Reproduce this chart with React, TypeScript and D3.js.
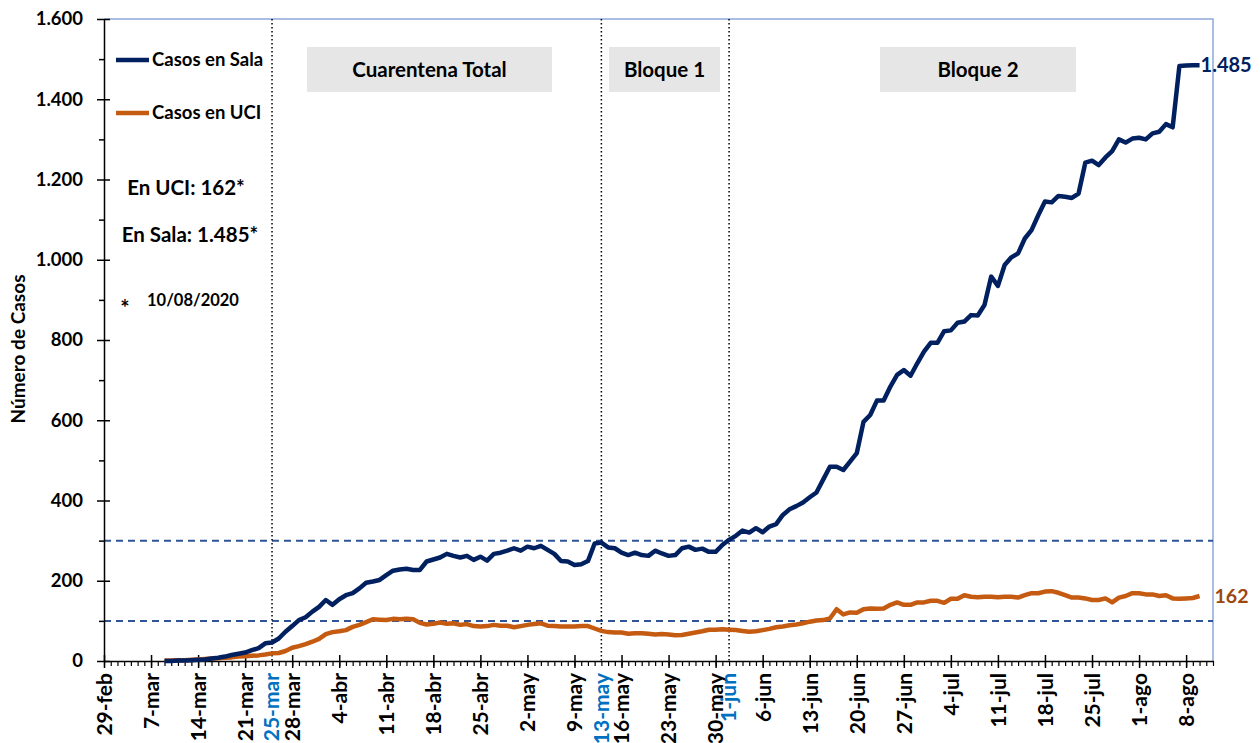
import React, { useEffect, useRef } from 'react';
import * as d3 from 'd3';

// axis runs from 29-feb to 12-ago, series start 9-mar (one value per day)
const axisStart = '2020-02-29';
const axisEnd = '2020-08-12';
const seriesStart = '2020-03-09';

const casosSala = [
  0, 0, 1, 1, 2, 3, 4, 6, 8, 11,
  15, 18, 21, 27, 32, 44, 46, 56, 73, 87,
  102, 109, 123, 135, 152, 140, 154, 164, 169, 181,
  195, 198, 202, 214, 225, 228, 230, 227, 227, 248,
  253, 258, 267, 262, 258, 262, 252, 260, 250, 267,
  270, 275, 281, 275, 285, 281, 287, 277, 267, 249,
  248, 239, 241, 249, 293, 295, 283, 281, 270, 264,
  270, 264, 262, 275, 268, 262, 264, 281, 285, 277,
  280, 272, 272, 289, 302, 312, 325, 320, 331, 321,
  335, 341, 364, 378, 386, 395, 408, 420, 452, 484,
  484, 476, 497, 518, 596, 613, 649, 649, 684, 713,
  725, 711, 742, 771, 793, 793, 822, 824, 843, 846,
  862, 861, 887, 958, 935, 987, 1006, 1016, 1053, 1074,
  1111, 1145, 1143, 1159, 1157, 1154, 1165, 1242, 1247, 1236,
  1255, 1271, 1300, 1292, 1302, 1304, 1300, 1315, 1319, 1338,
  1330, 1483, 1484, 1485, 1485,
];

const casosUci = [
  1, 1, 2, 2, 3, 4, 5, 6, 7, 8,
  9, 11, 12, 13, 14, 16, 19, 20, 25, 33,
  37, 42, 48, 55, 67, 72, 74, 77, 85, 90,
  97, 104, 103, 102, 105, 104, 105, 104, 95, 91,
  93, 96, 93, 94, 90, 92, 87, 86, 87, 90,
  88, 88, 84, 87, 90, 92, 94, 88, 87, 86,
  86, 86, 87, 87, 81, 75, 72, 71, 71, 68,
  69, 69, 68, 66, 67, 66, 64, 65, 68, 71,
  74, 78, 78, 79, 78, 77, 75, 73, 74, 77,
  80, 84, 86, 89, 91, 94, 98, 101, 102, 106,
  129, 116, 121, 120, 129, 131, 130, 131, 140, 146,
  140, 140, 146, 146, 150, 150, 145, 155, 155, 164,
  160, 159, 160, 160, 159, 160, 160, 158, 164, 169,
  169, 173, 174, 170, 164, 158, 158, 156, 152, 152,
  156, 146, 158, 162, 169, 169, 166, 166, 162, 164,
  156, 155, 156, 157, 162,
];

const monthNames = ['ene', 'feb', 'mar', 'abr', 'may', 'jun', 'jul', 'ago', 'sep', 'oct', 'nov', 'dic'];
const markerDates = ['2020-03-25', '2020-05-13', '2020-06-01'];
const refLevels = [300, 100];
const phaseLabels = ['Cuarentena Total', 'Bloque 1', 'Bloque 2'];
const seriesNames = ['Casos en Sala', 'Casos en UCI'];
const notes = ['En UCI: 162*', 'En Sala: 1.485*', '10/08/2020'];

const parseDay = (s: string) => new Date(s + 'T00:00:00Z');

const NAVY = '#002060';
const ORANGE = '#C55A11';
const FONT = 'Lato, "Open Sans", sans-serif';

const Chart: React.FC = () => {
  const svgRef = useRef<SVGSVGElement>(null);

  useEffect(() => {
    if (!svgRef.current) return;
    const svg = d3.select(svgRef.current);
    svg.selectAll('*').remove();
    svg.style('font-family', FONT);

    const left = 104;
    const right = 1213;
    const top = 19;
    const bottom = 661;

    const x = d3.scaleUtc().domain([parseDay(axisStart), parseDay(axisEnd)]).range([left, right]);
    const y = d3.scaleLinear().domain([0, 1600]).range([bottom, top]);

    const fmt = d3.formatLocale({ decimal: ',', thousands: '.', grouping: [3], currency: ['', ''] }).format(',');
    const dayLabel = (d: Date) => `${d.getUTCDate()}-${monthNames[d.getUTCMonth()]}`;

    // plot area border (top + right)
    svg.append('path')
      .attr('d', `M${left},${top}H${right}V${bottom}`)
      .attr('fill', 'none')
      .attr('stroke', '#8EA9DB')
      .attr('stroke-width', 1.5);

    // phase boxes
    const boxes = [
      { x0: 307, x1: 552 },
      { x0: 609, x1: 720 },
      { x0: 880, x1: 1076 },
    ];
    boxes.forEach((b, i) => {
      svg.append('rect')
        .attr('x', b.x0).attr('y', 47)
        .attr('width', b.x1 - b.x0).attr('height', 45)
        .attr('fill', '#E7E6E6');
      svg.append('text')
        .attr('x', (b.x0 + b.x1) / 2).attr('y', 70)
        .attr('dy', '0.35em')
        .attr('text-anchor', 'middle')
        .attr('font-size', 20.5).attr('font-weight', 700)
        .attr('fill', '#000')
        .text(phaseLabels[i]);
    });

    // reference dashed levels
    svg.selectAll('.ref')
      .data(refLevels)
      .enter()
      .append('line')
      .attr('x1', left).attr('x2', right)
      .attr('y1', (d) => y(d)).attr('y2', (d) => y(d))
      .attr('stroke', '#2F5597')
      .attr('stroke-width', 2)
      .attr('stroke-dasharray', '7,5');

    // dotted markers
    svg.selectAll('.marker')
      .data(markerDates)
      .enter()
      .append('line')
      .attr('x1', (d) => x(parseDay(d))).attr('x2', (d) => x(parseDay(d)))
      .attr('y1', top).attr('y2', bottom)
      .attr('stroke', '#000')
      .attr('stroke-width', 1.5)
      .attr('stroke-dasharray', '1.5,2.5');

    // y axis
    const yMajor = d3.range(0, 1601, 200);
    const yMinor = d3.range(100, 1600, 200);
    svg.append('g')
      .attr('transform', `translate(${left},0)`)
      .call(d3.axisLeft(y).tickValues(yMinor).tickSizeInner(5).tickSizeOuter(0).tickFormat(() => ''))
      .call((g) => g.select('.domain').remove())
      .call((g) => g.selectAll('.tick line').attr('stroke-width', 1.5));
    const yAxis = svg.append('g')
      .attr('transform', `translate(${left},0)`)
      .call(d3.axisLeft(y).tickValues(yMajor).tickSizeInner(6).tickSizeOuter(0).tickPadding(15).tickFormat((d) => fmt(d as number)));
    yAxis.select('.domain').attr('stroke-width', 1.5);
    yAxis.selectAll('.tick line').attr('x1', 6).attr('x2', -7).attr('stroke-width', 1.5);
    yAxis.selectAll('.tick text')
      .attr('font-family', FONT).attr('font-size', 18.5).attr('font-weight', 700).attr('fill', '#000');

    // x axis
    const t0 = parseDay(axisStart);
    const t1 = d3.utcDay.offset(parseDay(axisEnd), 1);
    svg.append('g')
      .attr('transform', `translate(0,${bottom})`)
      .call(d3.axisBottom(x).tickValues(d3.utcDay.range(t0, t1)).tickSizeInner(5).tickSizeOuter(0).tickFormat(() => ''))
      .call((g) => g.select('.domain').remove())
      .call((g) => g.selectAll('.tick line').attr('stroke-width', 1.2));
    const xAxis = svg.append('g')
      .attr('transform', `translate(0,${bottom})`)
      .call(d3.axisBottom(x).tickValues(d3.utcDay.range(t0, t1, 7)).tickSizeOuter(0).tickFormat((d) => dayLabel(d as Date)));
    xAxis.select('.domain').attr('stroke-width', 1.5);
    xAxis.selectAll('.tick line').attr('y1', -6).attr('y2', 7).attr('stroke-width', 1.5);
    xAxis.selectAll('.tick text')
      .attr('transform', 'rotate(-90)')
      .attr('text-anchor', 'end')
      .attr('x', -12).attr('y', 0).attr('dy', '0.35em')
      .attr('font-family', FONT).attr('font-size', 21).attr('font-weight', 700).attr('fill', '#000');

    // highlighted dates under the axis
    svg.selectAll('.hl')
      .data(markerDates)
      .enter()
      .append('text')
      .attr('transform', (d) => `translate(${x(parseDay(d))},${bottom + 12}) rotate(-90)`)
      .attr('text-anchor', 'end')
      .attr('dy', '0.35em')
      .attr('font-size', 21).attr('font-weight', 700)
      .attr('fill', '#0070C0')
      .text((d) => dayLabel(parseDay(d)));

    // series
    const s0 = parseDay(seriesStart);
    const line = d3.line<number>()
      .x((_, i) => x(d3.utcDay.offset(s0, i)))
      .y((d) => y(d));

    const series = [
      { values: casosUci, color: ORANGE },
      { values: casosSala, color: NAVY },
    ];
    series.forEach((s) => {
      svg.append('path')
        .datum(s.values)
        .attr('fill', 'none')
        .attr('stroke', s.color)
        .attr('stroke-width', 4.5)
        .attr('stroke-linejoin', 'round')
        .attr('d', line);
    });

    // end labels
    const lastIdx = casosSala.length - 1;
    const xLast = x(d3.utcDay.offset(s0, lastIdx));
    svg.append('text')
      .attr('x', xLast + 1).attr('y', y(casosSala[lastIdx]))
      .attr('dy', '0.35em')
      .attr('font-size', 20).attr('font-weight', 700).attr('fill', NAVY)
      .text(fmt(casosSala[lastIdx]));
    svg.append('text')
      .attr('x', xLast + 15).attr('y', y(casosUci[lastIdx]))
      .attr('dy', '0.35em')
      .attr('font-size', 19.5).attr('font-weight', 700).attr('fill', '#9E480E')
      .text(fmt(casosUci[lastIdx]));

    // legend
    [NAVY, ORANGE].forEach((c, i) => {
      const ly = 60 + i * 53;
      svg.append('line')
        .attr('x1', 116).attr('x2', 149)
        .attr('y1', ly).attr('y2', ly)
        .attr('stroke', c).attr('stroke-width', 4.5);
      svg.append('text')
        .attr('x', 152).attr('y', ly)
        .attr('dy', '0.35em')
        .attr('font-size', 18.5).attr('font-weight', 700).attr('fill', '#000')
        .text(seriesNames[i]);
    });

    // notes
    svg.append('text')
      .attr('x', 186).attr('y', 188).attr('dy', '0.35em')
      .attr('text-anchor', 'middle')
      .attr('font-size', 20.5).attr('font-weight', 700).text(notes[0]);
    svg.append('text')
      .attr('x', 190).attr('y', 235).attr('dy', '0.35em')
      .attr('text-anchor', 'middle')
      .attr('font-size', 20.5).attr('font-weight', 700).text(notes[1]);
    svg.append('text')
      .attr('x', 125).attr('y', 308).attr('dy', '0.35em')
      .attr('text-anchor', 'middle')
      .attr('font-size', 22).attr('font-weight', 700).text('*');
    svg.append('text')
      .attr('x', 147).attr('y', 300).attr('dy', '0.35em')
      .attr('font-size', 16.5).attr('font-weight', 700).text(notes[2]);

    // y title
    svg.append('text')
      .attr('transform', `translate(18,${(top + bottom) / 2 + 9}) rotate(-90)`)
      .attr('text-anchor', 'middle')
      .attr('dy', '0.35em')
      .attr('font-size', 19).attr('font-weight', 700)
      .text('Número de Casos');
  }, []);

  return (
    <svg
      ref={svgRef}
      width={1260}
      height={743}
      style={{ position: 'absolute', left: 0, top: 0, background: '#fff' }}
    />
  );
};

export default function App() {
  return <Chart />;
}
